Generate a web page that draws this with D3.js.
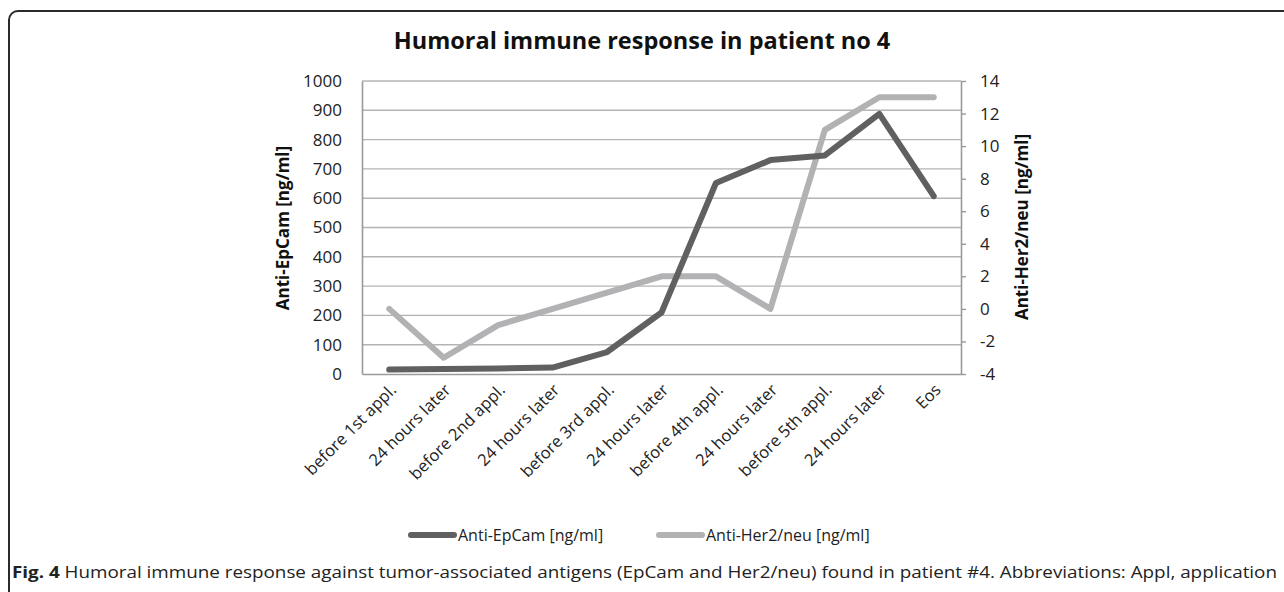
<!DOCTYPE html>
<html lang="en">
<head>
  <meta charset="utf-8"/>
  <title>Humoral immune response in patient no 4</title>
  <script src="https://d3js.org/d3.v7.min.js"></script>
  <style>
    body { margin: 0; background: #fff; }
    svg { display: block; font-family: "Open Sans", sans-serif; }
  </style>
</head>
<body>
<svg id="chart" width="1284" height="592"></svg>
<script>
  const categories = ["before 1st appl.", "24 hours later", "before 2nd appl.", "24 hours later", "before 3rd appl.",
    "24 hours later", "before 4th appl.", "24 hours later", "before 5th appl.", "24 hours later", "Eos"];
  const epcam = [15, 17, 19, 22, 75, 210, 652, 730, 746, 888, 607];
  const her2 = [0, -3, -1, 0, 1, 2, 2, 0, 11, 13, 13];
  const leftTicks = [0, 100, 200, 300, 400, 500, 600, 700, 800, 900, 1000];
  const rightTicks = [-4, -2, 0, 2, 4, 6, 8, 10, 12, 14];

  const svg = d3.select("#chart");
  const margin = { top: 81, left: 362, right: 961, bottom: 374 };

  // frame round the figure
  svg.append("rect")
    .attr("x", 9).attr("y", 11)
    .attr("width", 1400).attr("height", 700)
    .attr("rx", 9)
    .attr("fill", "none").attr("stroke", "#2a2a2a").attr("stroke-width", 2);

  const x = d3.scaleBand().domain(d3.range(categories.length)).range([margin.left, margin.right]);
  const yL = d3.scaleLinear().domain([0, 1000]).range([margin.bottom, margin.top]);
  const yR = d3.scaleLinear().domain([-4, 14]).range([margin.bottom, margin.top]);

  // grid
  svg.append("g").selectAll("line")
    .data(leftTicks.slice(1))
    .join("line")
    .attr("x1", margin.left).attr("x2", margin.right)
    .attr("y1", d => yL(d)).attr("y2", d => yL(d))
    .attr("stroke", "#b4b4b4").attr("stroke-width", 1.4);

  // left axis
  const gl = svg.append("g")
    .attr("transform", `translate(${margin.left},0)`)
    .call(d3.axisLeft(yL).tickValues(leftTicks).tickFormat(d => String(d)).tickSize(0).tickPadding(20));
  gl.select(".domain").attr("stroke", "#9a9a9a").attr("stroke-width", 1.6);
  gl.selectAll("text").attr("font-size", 17).attr("fill", "#222").attr("font-family", "Open Sans");

  // right axis
  const gr = svg.append("g")
    .attr("transform", `translate(${margin.right},0)`)
    .call(d3.axisRight(yR).tickValues(rightTicks).tickFormat(d => String(d)).tickSize(5).tickSizeOuter(0).tickPadding(14));
  gr.select(".domain").attr("stroke", "#9a9a9a").attr("stroke-width", 1.6);
  gr.selectAll(".tick line").attr("stroke", "#9a9a9a").attr("stroke-width", 1.4);
  gr.selectAll("text").attr("font-size", 17).attr("fill", "#222").attr("font-family", "Open Sans");

  // bottom axis
  const gb = svg.append("g")
    .attr("transform", `translate(0,${margin.bottom})`)
    .call(d3.axisBottom(x).tickFormat(i => categories[i]).tickSize(0).tickPadding(0));
  gb.select(".domain").attr("stroke", "#9a9a9a").attr("stroke-width", 1.6);
  gb.selectAll("text")
    .attr("font-size", 16.5).attr("fill", "#222").attr("font-family", "Open Sans")
    .attr("text-anchor", "end")
    .attr("dy", null).attr("y", 0)
    .attr("transform", "translate(8,17) rotate(-45)");

  // axis titles
  svg.append("text")
    .attr("transform", "translate(289,228) rotate(-90)")
    .attr("text-anchor", "middle").attr("font-weight", "bold").attr("font-size", 17).attr("fill", "#111")
    .text("Anti-EpCam [ng/ml]");
  svg.append("text")
    .attr("transform", "translate(1028,227) rotate(-90)")
    .attr("text-anchor", "middle").attr("font-weight", "bold").attr("font-size", 17).attr("fill", "#111")
    .text("Anti-Her2/neu [ng/ml]");

  // lines
  const cx = i => x(i) + x.bandwidth() / 2;
  svg.append("path")
    .datum(her2)
    .attr("fill", "none").attr("stroke", "#b2b2b4").attr("stroke-width", 6)
    .attr("stroke-linecap", "round").attr("stroke-linejoin", "round")
    .attr("d", d3.line().x((d, i) => cx(i)).y(d => yR(d)));
  svg.append("path")
    .datum(epcam)
    .attr("fill", "none").attr("stroke", "#606060").attr("stroke-width", 6)
    .attr("stroke-linecap", "round").attr("stroke-linejoin", "round")
    .attr("d", d3.line().x((d, i) => cx(i)).y(d => yL(d)));

  // title
  svg.append("text")
    .attr("x", 642).attr("y", 49)
    .attr("text-anchor", "middle").attr("font-weight", "bold").attr("font-size", 23.5).attr("fill", "#111")
    .text("Humoral immune response in patient no 4");

  // legend
  const legend = [
    { name: "Anti-EpCam [ng/ml]", color: "#606060", x: 411 },
    { name: "Anti-Her2/neu [ng/ml]", color: "#b2b2b4", x: 659 }
  ];
  const lg = svg.append("g").selectAll("g").data(legend).join("g")
    .attr("transform", d => `translate(${d.x},535)`);
  lg.append("line")
    .attr("x1", 0).attr("x2", 43)
    .attr("stroke", d => d.color).attr("stroke-width", 6).attr("stroke-linecap", "round");
  lg.append("text")
    .attr("x", 47).attr("y", 6)
    .attr("font-size", 16).attr("fill", "#222")
    .text(d => d.name);

  // caption
  const cap = svg.append("text")
    .attr("x", 12).attr("y", 578)
    .attr("font-size", 16).attr("fill", "#222")
    .attr("textLength", 1265).attr("lengthAdjust", "spacingAndGlyphs");
  cap.append("tspan").attr("font-weight", "bold").text("Fig. 4");
  cap.append("tspan").text(" Humoral immune response against tumor-associated antigens (EpCam and Her2/neu) found in patient #4. Abbreviations: Appl, application");
</script>
</body>
</html>
